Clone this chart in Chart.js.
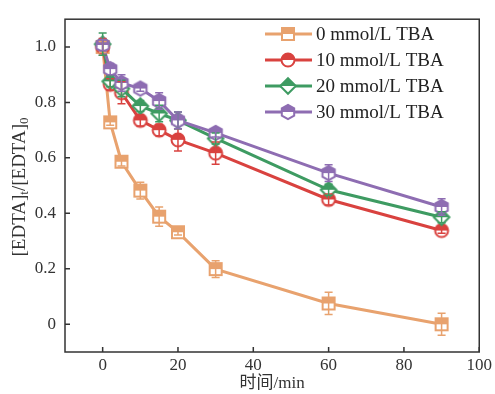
<!DOCTYPE html>
<html>
<head>
<meta charset="utf-8">
<script src="https://cdn.jsdelivr.net/npm/chart.js@4.4.0/dist/chart.umd.min.js"></script>
<style>
  html, body { margin: 0; padding: 0; background: #fff; }
  #wrap { width: 495px; height: 394px; }
</style>
</head>
<body>
<div id="wrap"><canvas id="chart" width="495" height="394"></canvas></div>
<script>
// Time points (min)
const times = [0, 2, 5, 10, 15, 20, 30, 60, 90];

// [EDTA]t/[EDTA]0 for each TBA level
const tba0 = [1.0, 0.728, 0.586, 0.482, 0.388, 0.332, 0.199, 0.075, 0.0];
const tba10 = [1.0, 0.865, 0.835, 0.735, 0.70, 0.665, 0.617, 0.45, 0.338];
const tba20 = [1.01, 0.876, 0.85, 0.787, 0.76, 0.735, 0.67, 0.485, 0.386];
const tba30 = [1.007, 0.92, 0.87, 0.85, 0.805, 0.735, 0.69, 0.545, 0.423];

// error bar half-widths
const err0 = [0.02, 0.01, 0.015, 0.03, 0.035, 0.01, 0.03, 0.04, 0.04];
const err10 = [0.03, 0.02, 0.04, 0.02, 0.02, 0.04, 0.04, 0.02, 0.01];
const err20 = [0.04, 0.02, 0.03, 0.02, 0.03, 0.03, 0.02, 0.02, 0.02];
const err30 = [0.02, 0.02, 0.03, 0.01, 0.03, 0.03, 0.015, 0.03, 0.03];

const labels = ["0 mmol/L TBA", "10 mmol/L TBA", "20 mmol/L TBA", "30 mmol/L TBA"];
const colors = ["#E8A26E", "#D9423F", "#3E9B62", "#8E6DB2"];
const shapes = ["square", "circle", "diamond", "hexagon"];

const xTicks = [0, 20, 40, 60, 80, 100];
const yTicks = [0, 0.2, 0.4, 0.6, 0.8, 1.0];

const serif = "'Liberation Serif', 'Noto Sans CJK SC', serif";

// half-filled marker images
function shapePath(ctx, shape, c, r) {
  ctx.beginPath();
  if (shape === "square") {
    ctx.rect(c - r, c - r, 2 * r, 2 * r);
  } else if (shape === "circle") {
    ctx.arc(c, c, r, 0, Math.PI * 2);
  } else if (shape === "diamond") {
    ctx.moveTo(c, c - r * 1.2);
    ctx.lineTo(c + r * 1.2, c);
    ctx.lineTo(c, c + r * 1.2);
    ctx.lineTo(c - r * 1.2, c);
    ctx.closePath();
  } else {
    for (let i = 0; i < 6; i++) {
      const a = -Math.PI / 2 + i * Math.PI / 3;
      const px = c + r * 1.1 * Math.cos(a), py = c + r * 1.1 * Math.sin(a);
      if (i === 0) ctx.moveTo(px, py); else ctx.lineTo(px, py);
    }
    ctx.closePath();
  }
}

function makeMarker(shape, color) {
  const size = 22, c = size / 2, r = shape === "square" ? 6 : 6.5;
  const cv = document.createElement("canvas");
  cv.width = size; cv.height = size;
  const ctx = cv.getContext("2d");
  shapePath(ctx, shape, c, r);
  ctx.fillStyle = "#fff";
  ctx.fill();
  ctx.save();
  ctx.beginPath();
  ctx.rect(0, 0, size, c);
  ctx.clip();
  shapePath(ctx, shape, c, r);
  ctx.fillStyle = color;
  ctx.fill();
  ctx.restore();
  shapePath(ctx, shape, c, r);
  ctx.strokeStyle = color;
  ctx.lineWidth = 2;
  ctx.stroke();
  return cv;
}

const markers = shapes.map((s, i) => makeMarker(s, colors[i]));
const series = [tba0, tba10, tba20, tba30];
const errors = [err0, err10, err20, err30];

const datasets = series.map((vals, i) => ({
  label: labels[i],
  data: vals.map((v, k) => ({ x: times[k], y: v })),
  borderColor: colors[i],
  backgroundColor: colors[i],
  borderWidth: 3,
  pointStyle: markers[i],
  pointRadius: 8,
  tension: 0,
  order: 3 - i,
}));

// error bars, frame, ticks, legend, axis titles
const decor = {
  id: "decor",
  afterDatasetsDraw(chart) {
    const { ctx, scales: { x, y } } = chart;
    ctx.save();
    ctx.lineWidth = 1.5;
    series.forEach((vals, i) => {
      ctx.strokeStyle = colors[i];
      vals.forEach((v, k) => {
        const px = x.getPixelForValue(times[k]);
        const top = y.getPixelForValue(v + errors[i][k]);
        const bot = y.getPixelForValue(v - errors[i][k]);
        ctx.beginPath();
        ctx.moveTo(px, top); ctx.lineTo(px, bot);
        ctx.moveTo(px - 4, top); ctx.lineTo(px + 4, top);
        ctx.moveTo(px - 4, bot); ctx.lineTo(px + 4, bot);
        ctx.stroke();
      });
    });
    ctx.restore();
  },
  afterDraw(chart) {
    const { ctx, chartArea: a, scales: { x, y } } = chart;
    ctx.save();
    ctx.strokeStyle = "#333";
    ctx.lineWidth = 1.5;
    ctx.strokeRect(a.left, a.top, a.right - a.left, a.bottom - a.top);
    ctx.beginPath();
    xTicks.forEach((t) => {
      const px = x.getPixelForValue(t);
      ctx.moveTo(px, a.bottom); ctx.lineTo(px, a.bottom - 5);
    });
    yTicks.forEach((t) => {
      const py = y.getPixelForValue(t);
      ctx.moveTo(a.left, py); ctx.lineTo(a.left + 5, py);
    });
    ctx.stroke();

    // legend
    ctx.font = "19px " + serif;
    ctx.textBaseline = "middle";
    labels.forEach((lab, i) => {
      const ly = 34 + i * 26;
      ctx.strokeStyle = colors[i];
      ctx.lineWidth = 3;
      ctx.beginPath();
      ctx.moveTo(265, ly); ctx.lineTo(312, ly);
      ctx.stroke();
      ctx.drawImage(markers[i], 288 - 11, ly - 11);
      ctx.fillStyle = "#222";
      ctx.textAlign = "left";
      ctx.fillText(lab, 316, ly + 1);
    });

    // x title
    ctx.textAlign = "center";
    ctx.font = "17px " + serif;
    ctx.fillStyle = "#333";
    ctx.fillText("时间/min", (a.left + a.right) / 2, 384);

    // y title with subscripts
    ctx.translate(20, 187);
    ctx.rotate(-Math.PI / 2);
    const big = "19px " + serif, small = "13px " + serif;
    const parts = [["[EDTA]", big, 0], ["t", small, 5], ["/[EDTA]", big, 0], ["0", small, 5]];
    let total = 0;
    parts.forEach(([s, f]) => { ctx.font = f; total += ctx.measureText(s).width; });
    let cx = -total / 2;
    ctx.textAlign = "left";
    parts.forEach(([s, f, dy]) => {
      ctx.font = f;
      ctx.fillText(s, cx, dy);
      cx += ctx.measureText(s).width;
    });
    ctx.restore();
  },
};

new Chart(document.getElementById("chart"), {
  type: "line",
  data: { datasets: datasets },
  options: {
    responsive: false,
    animation: false,
    layout: { padding: { top: 10, right: 13, left: 0, bottom: 0 } },
    plugins: { legend: { display: false }, tooltip: { enabled: false } },
    scales: {
      x: {
        type: "linear",
        min: -10,
        max: 100,
        afterFit: (s) => { s.height = 42; },
        afterBuildTicks: (s) => { s.ticks = xTicks.map((v) => ({ value: v })); },
        grid: { display: false, tickLength: 0 },
        border: { display: false },
        ticks: {
          color: "#333",
          padding: 3,
          font: { family: serif, size: 17 },
          callback: (v) => String(v),
        },
      },
      y: {
        min: -0.1,
        max: 1.1,
        afterFit: (s) => { s.width = 65; },
        afterBuildTicks: (s) => { s.ticks = yTicks.map((v) => ({ value: v })); },
        grid: { display: false, tickLength: 0 },
        border: { display: false },
        ticks: {
          color: "#333",
          padding: 9,
          font: { family: serif, size: 17 },
          callback: (v) => (v === 0 ? "0" : v.toFixed(1)),
        },
      },
    },
  },
  plugins: [decor],
});
</script>
</body>
</html>
